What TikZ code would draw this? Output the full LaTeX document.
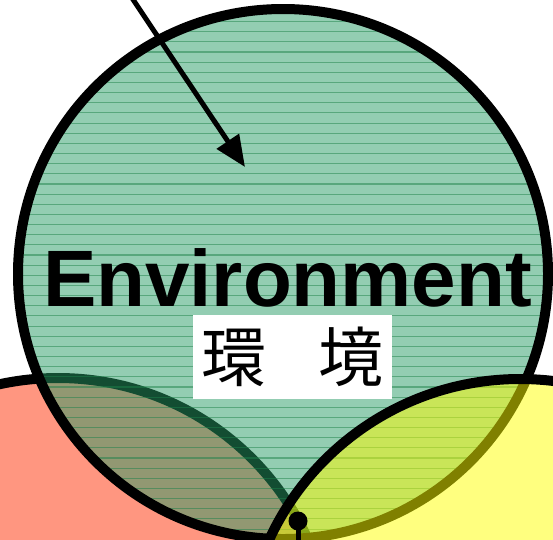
\documentclass[tikz,border=0pt]{standalone}
\usepackage{fontspec}
\setmainfont{Liberation Sans}
\newfontfamily\jpfont{Noto Sans CJK JP}
\usetikzlibrary{arrows.meta}
\definecolor{redfill}{RGB}{255,150,128}
\definecolor{greenfill}{RGB}{39,155,101}
\definecolor{hatchcol}{RGB}{30,130,75}
\definecolor{yellowfill}{RGB}{255,255,0}
\begin{document}
\begin{tikzpicture}[x=1pt,y=-1pt,
  ring/.style={draw=black, line width=10pt},
  hatchline/.style={draw=hatchcol, draw opacity=0.5, line width=1.1pt},
  pointer/.style={line width=5pt, -{Triangle[length=31pt,width=26pt]}}]
\useasboundingbox (0,0) rectangle (553,539);
\clip (0,0) rectangle (553,539);
% red circle
\fill[redfill] (58,652) circle (274);
\draw[ring] (58,652) circle (274);
% green circle
\fill[greenfill, fill opacity=0.5] (283,274) circle (265);
\begin{scope}
  \clip (283,274) circle (265);
  \foreach \k in {-3,...,52}
    \draw[hatchline] (0,{31.7+10.15*\k}) -- (553,{31.7+10.15*\k});
\end{scope}
\draw[ring] (283,274) circle (265);
% yellow circle
\fill[yellowfill, fill opacity=0.5] (520,655) circle (276);
\draw[ring] (520,655) circle (276);
% texts
\node[anchor=base, inner sep=0, font=\fontsize{80}{80}\selectfont\bfseries] (env) at (287.5,306) {Environment};
\node[fill=white, minimum width=199pt, minimum height=84pt, inner sep=0,
      font=\jpfont\fontsize{65}{65}\selectfont] (kanji) at (292.5,357) {環\hspace{52pt}境};
% arrow
\coordinate (arrowstart) at (128,-8);
\coordinate (arrowtip) at (245,167);
\draw[pointer] (arrowstart) -- (arrowtip);
% dot with line
\node[circle, fill=black, minimum size=19pt, inner sep=0] (dot) at (298,521) {};
\coordinate (dotend) at (298,548);
\draw[line width=5pt] (dot.center) -- (dotend);
\end{tikzpicture}
\end{document}
